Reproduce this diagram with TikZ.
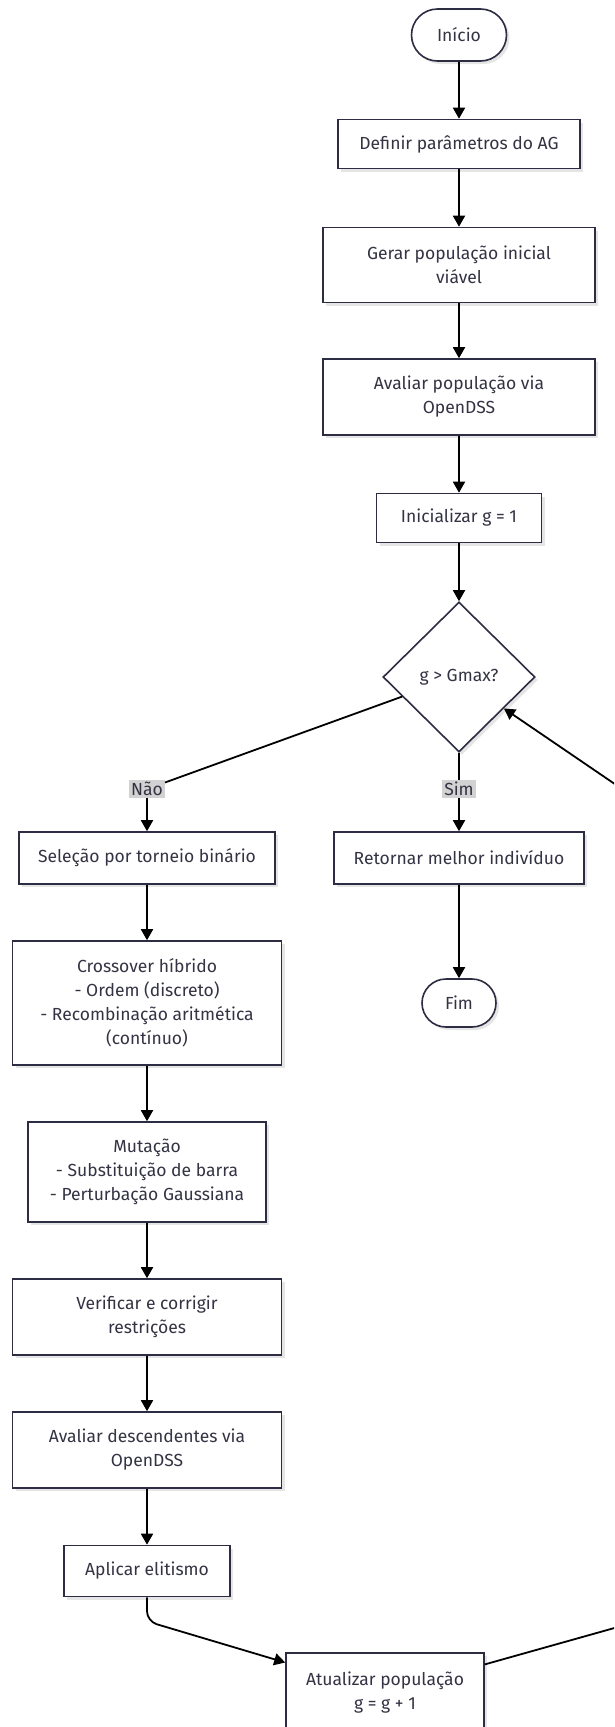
\documentclass[tikz,border=0pt]{standalone}
\usepackage{fontspec}
\setmainfont{Fira Sans}
\usetikzlibrary{arrows.meta, shapes.geometric, shapes.misc, shadows, positioning, calc}
\definecolor{color1}{RGB}{44,44,66}
\definecolor{color2}{RGB}{51,51,68}
\definecolor{color3}{RGB}{210,210,210}

\begin{document}
\begin{tikzpicture}[x=1pt,y=-1pt,
		font=\fontsize{17.5}{24}\selectfont,
		box/.style={rectangle, draw=color1, line width=1.6pt, fill=white, text=color2, align=center, inner sep=0pt,
			drop shadow={shadow xshift=3pt, shadow yshift=-3pt, fill=black!20, opacity=0.5}},
		term/.style={box, rounded rectangle},
		cond/.style={box, diamond},
		lbl/.style={fill=color3, text=color2, inner sep=2pt},
		line/.style={line width=1.8pt, black},
		arr/.style={line, -{Triangle[length=11pt,width=12pt]}}
	]
		\useasboundingbox (0,0) rectangle (614,1727);
		\clip (0,0) rectangle (614,1727);
		
		\node[term, minimum width=95, minimum height=52] (start) at (459,35) {Início};
		\node[box, minimum width=242, minimum height=49] (def) at (459,144) {Definir parâmetros do AG};
		\node[box, minimum width=272, minimum height=75] (gen) at (459,265) {Gerar população inicial\\viável};
		\node[box, minimum width=272, minimum height=76] (eval) at (459,397) {Avaliar população via\\OpenDSS};
		\node[box, minimum width=165, minimum height=49] (init) at (459,518) {Inicializar g = 1};
		\node[cond, minimum width=152, minimum height=150] (dec) at (459,677) {g > Gmax?};
		\node[lbl] (nao) at (147,789) {Não};
		\node[lbl] (sim) at (459,789) {Sim};
		\node[box, minimum width=256, minimum height=52] (sel) at (147,858) {Seleção por torneio binário};
		\node[box, minimum width=250, minimum height=52] (ret) at (459,858) {Retornar melhor indivíduo};
		\node[box, minimum width=269, minimum height=124] (cross) at (147,1003) {Crossover híbrido\\- Ordem (discreto)\\- Recombinação aritmética\\(contínuo)};
		\node[term, minimum width=74, minimum height=48] (fim) at (459,1003) {Fim};
		\node[box, minimum width=238, minimum height=100] (mut) at (147,1172) {Mutação\\- Substituição de barra\\- Perturbação Gaussiana};
		\node[box, minimum width=269, minimum height=76] (chk) at (147,1317) {Verificar e corrigir\\restrições};
		\node[box, minimum width=269, minimum height=76] (evald) at (147,1450) {Avaliar descendentes via\\OpenDSS};
		\node[box, minimum width=166, minimum height=51] (elit) at (147,1571) {Aplicar elitismo};
		\node[box, minimum width=198, minimum height=80] (upd) at (385,1693) {Atualizar população\\g = g + 1};
		\coordinate (loopA) at (650,1618);
		\coordinate (loopB) at (650,808);
		
		\draw[arr] (start) -- (def);
		\draw[arr] (def) -- (gen);
		\draw[arr] (gen) -- (eval);
		\draw[arr] (eval) -- (init);
		\draw[arr] (init) -- (dec);
		\draw[line] (dec.199) -- (nao);
		\draw[arr] (nao) -- (sel);
		\draw[line] (dec) -- (sim);
		\draw[arr] (sim) -- (ret);
		\draw[arr] (ret) -- (fim);
		\draw[arr] (sel) -- (cross);
		\draw[arr] (cross) -- (mut);
		\draw[arr] (mut) -- (chk);
		\draw[arr] (chk) -- (evald);
		\draw[arr] (evald) -- (elit);
		\draw[arr, rounded corners=10] (elit.south) -- ++(0,24) -- (upd.163);
		\draw[arr, rounded corners=20] (upd.16) -- (loopA) -- (loopB) -- (dec.-35);
		
\end{tikzpicture}
\end{document}
